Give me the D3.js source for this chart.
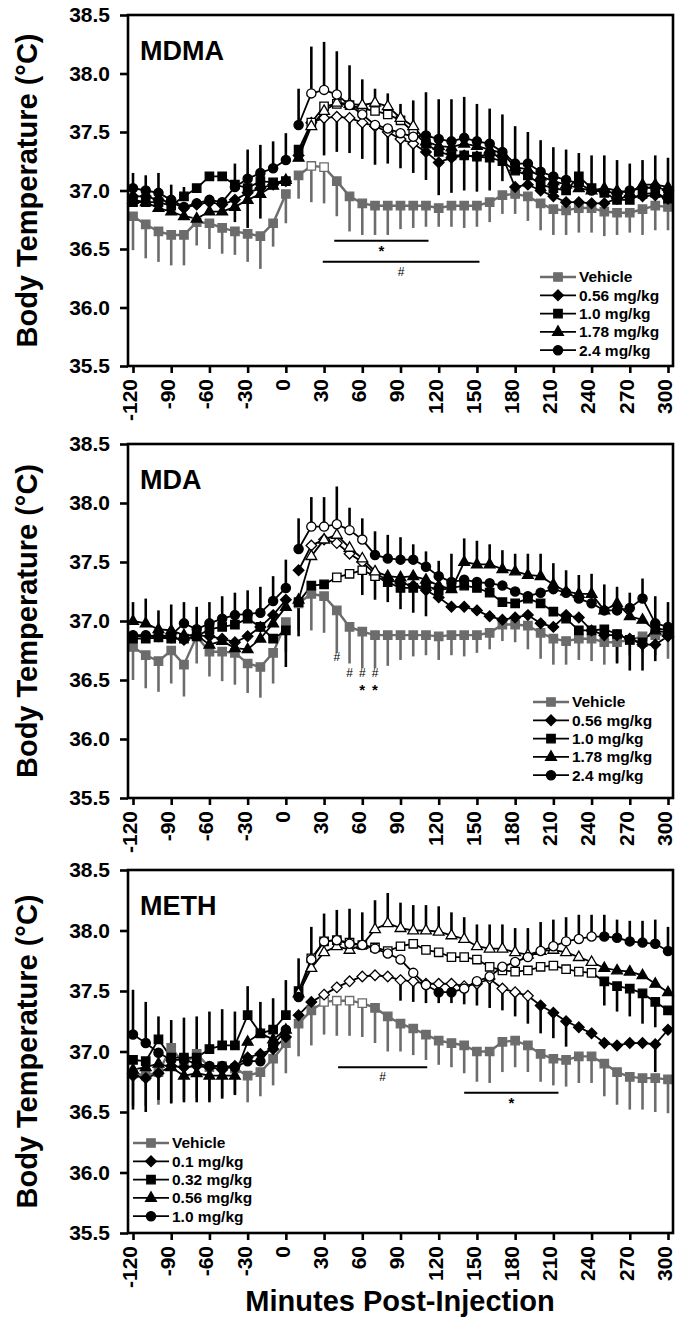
<!DOCTYPE html>
<html>
<head>
<meta charset="utf-8">
<title>Body temperature after MDMA, MDA and METH</title>
<script src="https://d3js.org/d3.v7.min.js"></script>
<style>
  body { margin: 0; background: #fff; }
  text { font-family: "Liberation Sans", Arial, sans-serif; font-weight: bold; fill: #000; }
</style>
</head>
<body>
<div id="chart"></div>
<script>
// Time points (min) and axis ticks
var times = [-120, -110, -100, -90, -80, -70, -60, -50, -40, -30, -20, -10, 0,
  10, 20, 30, 40, 50, 60, 70, 80, 90, 100, 110, 120, 130, 140, 150, 160, 170, 180,
  190, 200, 210, 220, 230, 240, 250, 260, 270, 280, 290, 300];
var xTicks = [-120, -90, -60, -30, 0, 30, 60, 90, 120, 150, 180, 210, 240, 270, 300];
var yTicks = [35.5, 36.0, 36.5, 37.0, 37.5, 38.0, 38.5];

// MDMA
var mdmaVehicle = [36.78, 36.71, 36.65, 36.62, 36.62, 36.73, 36.72, 36.68, 36.65, 36.63, 36.61, 36.72, 36.97,
  37.13, 37.21, 37.20, 37.08, 36.95, 36.89, 36.87, 36.87, 36.87, 36.87, 36.87, 36.85, 36.87, 36.87, 36.87,
  36.90, 36.96, 36.97, 36.95, 36.89, 36.84, 36.83, 36.85, 36.85, 36.82, 36.81, 36.81, 36.84, 36.87, 36.86];
var mdmaVehicleLo = [36.49, 36.42, 36.39, 36.36, 36.36, 36.53, 36.50, 36.46, 36.45, 36.39, 36.33, 36.52, 36.72,
  36.93, 36.90, 36.89, 36.78, 36.65, 36.62, 36.62, 36.62, 36.67, 36.68, 36.69, 36.69, 36.69, 36.68, 36.69,
  36.73, 36.80, 36.80, 36.74, 36.66, 36.62, 36.62, 36.64, 36.64, 36.61, 36.62, 36.64, 36.62, 36.66, 36.66];
var mdma056 = [36.95, 36.95, 36.92, 36.90, 36.85, 36.88, 36.90, 36.88, 36.92, 36.98, 37.02, 37.05, 37.08,
  37.30, 37.58, 37.62, 37.63, 37.62, 37.58, 37.55, 37.50, 37.44, 37.40, 37.33, 37.24, 37.28, 37.30, 37.29,
  37.31, 37.29, 37.03, 37.05, 37.00, 36.95, 36.90, 36.90, 36.89, 36.89, 36.93, 36.95, 36.95, 36.96, 36.93];
var mdma10 = [36.90, 36.90, 36.90, 36.87, 36.95, 37.02, 37.12, 37.12, 37.05, 37.02, 37.08, 37.07, 37.08,
  37.35, 37.58, 37.72, 37.74, 37.73, 37.70, 37.68, 37.65, 37.60, 37.50, 37.40, 37.33, 37.30, 37.30, 37.29,
  37.28, 37.25, 37.17, 37.13, 37.05, 37.02, 37.00, 37.12, 37.02, 36.98, 36.92, 36.92, 36.97, 36.98, 36.93];
var mdma178 = [36.92, 36.90, 36.85, 36.82, 36.78, 36.76, 36.82, 36.82, 36.86, 36.92, 36.97, 37.04, 37.09,
  37.28, 37.55, 37.68, 37.75, 37.74, 37.73, 37.75, 37.72, 37.62, 37.55, 37.42, 37.38, 37.37, 37.40, 37.38,
  37.35, 37.32, 37.20, 37.18, 37.12, 37.08, 37.05, 37.02, 37.00, 37.02, 37.00, 36.98, 37.05, 37.05, 37.03];
var mdma24 = [37.02, 37.00, 36.98, 36.92, 36.86, 36.89, 36.92, 36.90, 37.03, 37.10, 37.15, 37.19, 37.26,
  37.56, 37.83, 37.86, 37.82, 37.73, 37.65, 37.56, 37.53, 37.49, 37.46, 37.47, 37.44, 37.42, 37.45, 37.42,
  37.40, 37.33, 37.23, 37.23, 37.16, 37.12, 37.09, 37.06, 37.00, 36.99, 36.98, 37.00, 37.02, 37.03, 37.00];
var mdmaHi = [37.15, 37.13, 37.15, 37.05, 37.03, 37.04, 37.15, 37.15, 37.23, 37.35, 37.39, 37.42, 37.49,
  37.87, 38.23, 38.27, 38.19, 38.07, 37.95, 37.87, 37.83, 37.74, 37.77, 37.84, 37.78, 37.78, 37.80, 37.74,
  37.70, 37.65, 37.55, 37.50, 37.43, 37.37, 37.35, 37.32, 37.30, 37.30, 37.26, 37.23, 37.26, 37.30, 37.28];
var mdmaLo = [null, null, null, null, null, null, null, null, 36.73, 36.68, 36.76, null, null,
  null, null, 37.30, 37.33, 37.32, 37.27, 37.22, 37.23, 37.19, 37.15, 37.09, 36.96, 36.98, 37.00, 36.99,
  37.00, 37.08, null, null, null, null, null, null, null, null, null, null, null, null, null];

// MDA
var mdaVehicle = [36.78, 36.71, 36.66, 36.75, 36.63, 36.87, 36.74, 36.74, 36.73, 36.64, 36.61, 36.73, 36.99,
  37.15, 37.23, 37.21, 37.09, 36.95, 36.91, 36.88, 36.88, 36.88, 36.88, 36.88, 36.87, 36.88, 36.88, 36.88,
  36.90, 36.97, 36.97, 36.96, 36.90, 36.85, 36.83, 36.85, 36.85, 36.82, 36.82, 36.84, 36.87, 36.88, 36.89];
var mdaVehicleLo = [36.50, 36.43, 36.40, 36.47, 36.36, 36.64, 36.53, 36.49, 36.46, 36.39, 36.35, 36.47, 36.74,
  36.92, 36.92, 36.90, 36.73, 36.64, 36.60, 36.60, 36.62, 36.67, 36.70, 36.71, 36.67, 36.71, 36.70, 36.73,
  36.76, 36.83, 36.82, 36.76, 36.68, 36.63, 36.63, 36.67, 36.66, 36.63, 36.65, 36.71, 36.74, 36.71, 36.68];
var mda056 = [36.87, 36.87, 36.87, 36.86, 36.84, 36.88, 36.87, 36.85, 36.82, 36.87, 36.95, 37.05, 37.18,
  37.43, 37.64, 37.69, 37.66, 37.57, 37.50, 37.40, 37.35, 37.32, 37.30, 37.26, 37.20, 37.12, 37.12, 37.09,
  37.04, 37.01, 37.03, 37.05, 36.98, 36.95, 37.05, 37.03, 36.92, 36.88, 36.88, 36.85, 36.80, 36.80, 36.87];
var mda10 = [36.85, 36.85, 36.86, 36.85, 36.85, 36.87, 36.93, 36.95, 36.97, 37.02, 36.95, 36.85, 36.92,
  37.16, 37.30, 37.31, 37.37, 37.40, 37.43, 37.38, 37.33, 37.28, 37.28, 37.30, 37.26, 37.28, 37.30, 37.28,
  37.24, 37.16, 37.15, 37.19, 37.15, 37.08, 37.02, 36.92, 36.92, 36.93, 36.89, 36.84, 36.82, 36.94, 36.92];
var mda178 = [37.00, 36.98, 36.93, 36.92, 36.88, 36.88, 36.80, 36.83, 36.77, 36.76, 36.85, 36.98, 37.12,
  37.18, 37.55, 37.69, 37.73, 37.62, 37.53, 37.42, 37.38, 37.37, 37.38, 37.35, 37.30, 37.27, 37.50, 37.48,
  37.48, 37.44, 37.42, 37.39, 37.38, 37.31, 37.25, 37.23, 37.23, 37.09, 37.15, 37.04, 37.01, 36.92, 36.90];
var mda24 = [36.88, 36.88, 36.87, 36.88, 36.98, 36.93, 36.98, 37.02, 37.05, 37.06, 37.07, 37.17, 37.28,
  37.61, 37.80, 37.80, 37.82, 37.77, 37.69, 37.56, 37.53, 37.52, 37.52, 37.46, 37.38, 37.33, 37.35, 37.33,
  37.32, 37.30, 37.25, 37.21, 37.24, 37.27, 37.24, 37.19, 37.15, 37.09, 37.09, 37.11, 37.19, 36.98, 36.95];
var mdaHi = [37.16, 37.19, 37.09, 37.14, 37.16, 37.12, 37.16, 37.21, 37.24, 37.26, 37.29, 37.38, 37.52,
  37.87, 38.05, 38.05, 38.14, 37.96, 37.87, 37.76, 37.73, 37.71, 37.65, 37.59, 37.51, 37.57, 37.70, 37.68,
  37.65, 37.60, 37.57, 37.57, 37.57, 37.49, 37.43, 37.39, 37.40, 37.31, 37.29, 37.24, 37.36, 37.21, 37.16];
var mdaLo = [null, null, null, null, null, null, null, null, null, null, null, null, 36.61,
  36.87, null, null, null, null, 37.22, 37.18, 37.16, 37.10, 37.07, 37.04, null, null, null, null,
  null, null, null, null, null, null, null, null, null, null, 36.64, 36.58, 36.58, 36.66, null];

// METH
var methVehicle = [36.82, 36.80, 36.83, 37.03, 36.90, 36.98, 36.87, 36.88, 36.86, 36.80, 36.83, 36.94, 37.07,
  37.23, 37.34, 37.41, 37.42, 37.42, 37.40, 37.36, 37.29, 37.23, 37.19, 37.14, 37.09, 37.07, 37.05, 37.00,
  37.00, 37.08, 37.09, 37.05, 36.98, 36.94, 36.93, 36.96, 36.96, 36.90, 36.83, 36.79, 36.78, 36.78, 36.77];
var methVehicleLo = [36.55, 36.55, 36.56, 36.58, 36.60, 36.62, 36.60, 36.62, 36.65, 36.58, 36.63, 36.72, 36.82,
  36.96, 37.05, 37.14, 37.13, 37.13, 37.12, 37.07, 37.00, 37.00, 36.97, 36.93, 36.89, 36.87, 36.82, 36.75,
  36.74, 36.83, 36.87, 36.83, 36.75, 36.72, 36.71, 36.74, 36.74, 36.63, 36.56, 36.52, 36.52, 36.50, 36.49];
var meth01 = [36.80, 36.78, 36.82, 36.88, 36.87, 36.88, 36.87, 36.85, 36.88, 36.95, 36.98, 37.02, 37.12,
  37.30, 37.41, 37.47, 37.53, 37.58, 37.62, 37.63, 37.62, 37.59, 37.58, 37.56, 37.56, 37.56, 37.54, 37.56,
  37.60, 37.52, 37.49, 37.46, 37.38, 37.32, 37.25, 37.20, 37.15, 37.07, 37.05, 37.07, 37.07, 37.06, 37.18];
var meth032 = [36.93, 36.92, 37.10, 36.95, 36.95, 36.95, 37.02, 37.05, 37.05, 37.30, 37.15, 37.18, 37.30,
  37.50, 37.77, 37.91, 37.92, 37.90, 37.88, 37.86, 37.83, 37.87, 37.89, 37.84, 37.82, 37.78, 37.78, 37.76,
  37.70, 37.67, 37.66, 37.67, 37.70, 37.71, 37.68, 37.66, 37.65, 37.58, 37.54, 37.52, 37.48, 37.41, 37.34];
var meth056 = [36.85, 36.87, 36.90, 36.87, 36.80, 36.82, 36.80, 36.80, 36.80, 37.08, 37.15, 37.10, 37.18,
  37.48, 37.69, 37.82, 37.87, 37.84, 37.88, 38.01, 38.06, 38.02, 38.00, 38.00, 37.99, 37.96, 37.93, 37.87,
  37.85, 37.85, 37.82, 37.80, 37.83, 37.84, 37.82, 37.78, 37.74, 37.69, 37.67, 37.66, 37.63, 37.56, 37.49];
var meth10 = [37.14, 37.07, 36.99, 36.93, 36.93, 36.90, 36.88, 36.88, 36.87, 36.92, 36.92, 37.05, 37.18,
  37.45, 37.76, 37.91, 37.92, 37.89, 37.88, 37.85, 37.81, 37.76, 37.65, 37.55, 37.49, 37.49, 37.52, 37.58,
  37.62, 37.70, 37.74, 37.78, 37.83, 37.87, 37.91, 37.93, 37.95, 37.95, 37.94, 37.91, 37.90, 37.89, 37.83];
var methHi = [37.51, 37.41, 37.29, 37.26, 37.28, 37.29, 37.33, 37.35, 37.33, 37.54, 37.41, 37.44, 37.59,
  37.77, 38.03, 38.14, 38.17, 38.18, 38.15, 38.25, 38.31, 38.23, 38.21, 38.21, 38.20, 38.15, 38.11, 38.05,
  38.05, 38.05, 38.02, 38.02, 38.07, 38.09, 38.11, 38.13, 38.13, 38.13, 38.09, 38.08, 38.08, 38.09, 38.03];
var methLo = [36.52, 36.50, 36.60, 36.57, 36.58, 36.58, 36.58, 36.61, 36.64, null, null, null, null,
  null, null, null, null, null, null, null, null, 37.42, 37.41, 37.40, 37.40, 37.40, 37.39, 37.38,
  37.36, 37.34, 37.29, 37.23, 37.15, 37.11, 37.04, null, null, null, null, null, null, 36.83, null];
var methLo2 = [null, null, null, null, null, null, null, null, null, null, null, null, null,
  null, null, null, null, null, null, null, null, null, null, null, null, null, null, null,
  null, null, null, null, null, null, null, null, null, 37.38, 37.33, 37.29, 37.23, 37.20, null];

// Time windows drawn with open symbols (significant vs. baseline)
var mdmaOpen = [[[20, 30]], [[20, 100]], [[20, 100]], [[20, 100]], [[20, 100]]];
var mdaOpen = [[], [[20, 60]], [[40, 70]], [[20, 70]], [[20, 60]]];
var methOpen = [[[30, 60]], [[30, 190]], [[20, 240]], [[10, 240]], [[20, 110], [140, 240]]];

// Significance annotations: [from, to, level, symbol]
var mdmaSig = [[38, 112, 36.57, "*"], [29, 152, 36.39, "#"]];
var methSig = [[41, 111, 36.87, "#"], [140, 214, 36.66, "*"]];
var mdaMarks = [[40, 36.70, "#"], [50, 36.56, "#"], [60, 36.56, "#"], [70, 36.56, "#"], [60, 36.42, "*"], [70, 36.42, "*"]];

var doseNames1 = ["Vehicle", "0.56 mg/kg", "1.0 mg/kg", "1.78 mg/kg", "2.4 mg/kg"];
var doseNames2 = ["Vehicle", "0.1 mg/kg", "0.32 mg/kg", "0.56 mg/kg", "1.0 mg/kg"];

var width = 675, height = 1318;
var gray = "#6c6c6c";
var frameLeft = 128, frameRight = 673;
var shapeNames = ["square", "diamond", "square", "triangle", "circle"];
var shapes = {
  square: "M-4.2,-4.2h8.4v8.4h-8.4Z",
  circle: "M4.6,0A4.6,4.6 0 1 1 -4.6,0A4.6,4.6 0 1 1 4.6,0Z",
  triangle: "M0,-6L5.4,3.4L-5.4,3.4Z",
  diamond: "M0,-5.3L5.3,0L0,5.3L-5.3,0Z"
};

function makeSeries(names, valueArrays, vehLo, open) {
  return names.map(function(n, i) {
    return { name: n, values: valueArrays[i], lo: i === 0 ? vehLo : null,
      shape: shapeNames[i], color: i === 0 ? gray : "#000", open: open[i] };
  });
}

var panels = [
  { title: "MDMA", top: 15, bottom: 366,
    series: makeSeries(doseNames1, [mdmaVehicle, mdma056, mdma10, mdma178, mdma24], mdmaVehicleLo, mdmaOpen),
    hi: mdmaHi, lo: [mdmaLo], sig: mdmaSig, marks: [], legend: [540, 277] },
  { title: "MDA", top: 444, bottom: 798,
    series: makeSeries(doseNames1, [mdaVehicle, mda056, mda10, mda178, mda24], mdaVehicleLo, mdaOpen),
    hi: mdaHi, lo: [mdaLo], sig: [], marks: mdaMarks, legend: [533, 702] },
  { title: "METH", top: 870, bottom: 1233,
    series: makeSeries(doseNames2, [methVehicle, meth01, meth032, meth056, meth10], methVehicleLo, methOpen),
    hi: methHi, lo: [methLo, methLo2], sig: methSig, marks: [], legend: [133, 1143] }
];

var x = d3.scaleLinear().domain([-120, 300]).range([133, 668]);

var svg = d3.select("#chart").append("svg")
  .attr("width", width).attr("height", height);

panels.forEach(function(p) {
  var y = d3.scaleLinear().domain([35.5, 38.5]).range([p.bottom, p.top]);
  var g = svg.append("g");
  var veh = p.series[0];
  var drugs = p.series.slice(1);

  // vehicle error bars (downward)
  g.append("g").selectAll("line").data(times).join("line")
    .attr("x1", function(t) { return x(t); })
    .attr("x2", function(t) { return x(t); })
    .attr("y1", function(t, i) { return y(veh.values[i]); })
    .attr("y2", function(t, i) { return y(veh.lo[i]); })
    .attr("stroke", gray).attr("stroke-width", 2.6);

  // drug error bars: upward from the highest curve, downward from the nearest curve above the limit
  var bars = [];
  p.hi.forEach(function(h, i) {
    if (h == null) return;
    bars.push({ t: times[i], from: d3.max(drugs, function(s) { return s.values[i]; }), to: h });
  });
  p.lo.forEach(function(arr) {
    arr.forEach(function(l, i) {
      if (l == null) return;
      var above = drugs.map(function(s) { return s.values[i]; }).filter(function(v) { return v > l; });
      bars.push({ t: times[i], from: d3.min(above), to: l });
    });
  });
  g.append("g").selectAll("line").data(bars).join("line")
    .attr("x1", function(d) { return x(d.t); })
    .attr("x2", function(d) { return x(d.t); })
    .attr("y1", function(d) { return y(d.from); })
    .attr("y2", function(d) { return y(d.to); })
    .attr("stroke", "#000").attr("stroke-width", 2.6);

  // lines, broken at the injection
  var line = d3.line().x(function(d) { return x(d.t); }).y(function(d) { return y(d.v); });
  p.series.forEach(function(s) {
    var pts = times.map(function(t, i) { return { t: t, v: s.values[i] }; });
    [pts.filter(function(d) { return d.t <= 0; }), pts.filter(function(d) { return d.t > 0; })]
      .forEach(function(seg) {
        g.append("path").datum(seg).attr("d", line)
          .attr("fill", "none").attr("stroke", s.color)
          .attr("stroke-width", s === veh ? 2.4 : 1.8);
      });
  });

  // markers
  p.series.forEach(function(s) {
    var isOpen = function(t) {
      return s.open.some(function(r) { return t >= r[0] && t <= r[1]; });
    };
    g.append("g").selectAll("path").data(times).join("path")
      .attr("d", shapes[s.shape])
      .attr("transform", function(t, i) { return "translate(" + x(t) + "," + y(s.values[i]) + ")"; })
      .attr("fill", function(t) { return isOpen(t) ? "#fff" : s.color; })
      .attr("stroke", s.color).attr("stroke-width", 1.3);
  });

  // significance bars and symbols
  p.sig.forEach(function(d) {
    g.append("line")
      .attr("x1", x(d[0])).attr("x2", x(d[1]))
      .attr("y1", y(d[2])).attr("y2", y(d[2]))
      .attr("stroke", "#000").attr("stroke-width", 2);
    g.append("text")
      .attr("x", x((d[0] + d[1]) / 2)).attr("y", y(d[2]) + 10)
      .attr("dy", "0.35em").attr("text-anchor", "middle")
      .style("font-size", d[3] === "*" ? "15px" : "12px")
      .style("font-weight", d[3] === "*" ? "bold" : "normal")
      .text(d[3]);
  });
  p.marks.forEach(function(d) {
    g.append("text")
      .attr("x", x(d[0])).attr("y", y(d[1]))
      .attr("dy", "0.35em").attr("text-anchor", "middle")
      .style("font-size", d[2] === "*" ? "15px" : "12px")
      .style("font-weight", d[2] === "*" ? "bold" : "normal")
      .text(d[2]);
  });

  // frame
  g.append("rect")
    .attr("x", frameLeft).attr("y", p.top)
    .attr("width", frameRight - frameLeft).attr("height", p.bottom - p.top)
    .attr("fill", "none").attr("stroke", "#000").attr("stroke-width", 2.6);

  // axes
  var ya = g.append("g").attr("transform", "translate(" + frameLeft + ",0)")
    .call(d3.axisLeft(y).tickValues(yTicks).tickFormat(d3.format(".1f")).tickSize(8).tickPadding(10));
  var xa = g.append("g").attr("transform", "translate(0," + p.bottom + ")")
    .call(d3.axisBottom(x).tickValues(xTicks).tickFormat(function(d) { return String(d); }).tickSize(7));
  [ya, xa].forEach(function(a) {
    a.select(".domain").remove();
    a.selectAll("line").attr("stroke", "#000").attr("stroke-width", 2.6);
    a.selectAll("text").style("font-size", "21px").style("font-family", "'Liberation Sans', Arial, sans-serif")
      .style("font-weight", "bold").attr("fill", "#000");
  });
  xa.selectAll("text")
    .attr("transform", "rotate(-90)")
    .attr("text-anchor", "end")
    .attr("x", -13).attr("y", 0).attr("dy", "0.16em");

  // y title
  g.append("text")
    .attr("transform", "translate(37," + ((p.top + p.bottom) / 2) + ") rotate(-90)")
    .attr("text-anchor", "middle").style("font-size", "29px")
    .text("Body Temperature (°C)");

  // panel title
  g.append("text").attr("x", 140).attr("y", p.top + 45)
    .style("font-size", "27px").text(p.title);

  // legend
  var lg = g.append("g").attr("transform", "translate(" + p.legend[0] + "," + p.legend[1] + ")");
  p.series.forEach(function(s, i) {
    var row = lg.append("g").attr("transform", "translate(0," + (i * 18.3) + ")");
    row.append("line").attr("x1", 0).attr("x2", 36).attr("y1", 0).attr("y2", 0)
      .attr("stroke", s.color).attr("stroke-width", s === veh ? 2.4 : 1.8);
    row.append("path").attr("d", shapes[s.shape]).attr("transform", "translate(18,0)")
      .attr("fill", s.color).attr("stroke", s.color).attr("stroke-width", 1.3);
    row.append("text").attr("x", 39).attr("y", 0).attr("dy", "0.35em")
      .style("font-size", "15.5px").text(s.name);
  });
});

svg.append("text")
  .attr("x", 400).attr("y", 1311)
  .attr("text-anchor", "middle").style("font-size", "29px")
  .text("Minutes Post-Injection");
</script>
</body>
</html>
